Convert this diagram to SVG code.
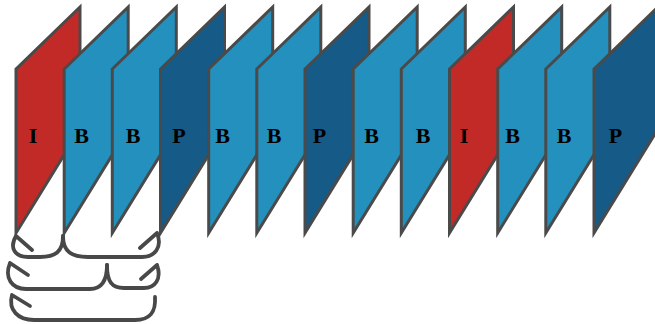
<svg xmlns="http://www.w3.org/2000/svg" width="655" height="324" viewBox="0 0 655 324">
<style>
.f{stroke:#4a4a4a;stroke-width:3;stroke-linejoin:miter}
.I{fill:#c22a28}
.B{fill:#2490bd}
.P{fill:#165a87}
.t{font-family:"Liberation Serif","Times New Roman",serif;font-weight:bold;font-size:22px;fill:#000;text-anchor:middle}
.c{fill:none;stroke:#484848;stroke-width:3.8;stroke-linecap:round;stroke-linejoin:round}
</style>
<defs>
<path id="fr" d="M0,69 L64,7 L64,129 L0,233 Z"/>
</defs>
<g id="f1"><use href="#fr" x="16" class="f I"/><text class="t" x="33" y="143">I</text></g>
<g id="f2"><use href="#fr" x="64.2" class="f B"/><text class="t" x="81.5" y="143">B</text></g>
<g id="f3"><use href="#fr" x="112.3" class="f B"/><text class="t" x="133" y="143">B</text></g>
<g id="f4"><use href="#fr" x="160.5" class="f P"/><text class="t" x="179" y="143">P</text></g>
<g id="f5"><use href="#fr" x="208.7" class="f B"/><text class="t" x="222.5" y="143">B</text></g>
<g id="f6"><use href="#fr" x="256.8" class="f B"/><text class="t" x="274" y="143">B</text></g>
<g id="f7"><use href="#fr" x="305" class="f P"/><text class="t" x="319.5" y="143">P</text></g>
<g id="f8"><use href="#fr" x="353.2" class="f B"/><text class="t" x="371.5" y="143">B</text></g>
<g id="f9"><use href="#fr" x="401.3" class="f B"/><text class="t" x="423" y="143">B</text></g>
<g id="f10"><use href="#fr" x="449.5" class="f I"/><text class="t" x="464" y="143">I</text></g>
<g id="f11"><use href="#fr" x="497.7" class="f B"/><text class="t" x="512.5" y="143">B</text></g>
<g id="f12"><use href="#fr" x="545.8" class="f B"/><text class="t" x="564" y="143">B</text></g>
<g id="f13"><use href="#fr" x="594" class="f P"/><text class="t" x="615.5" y="143">P</text></g>
<g id="connectors">
<path class="c" d="M63,236 C63,252 55,257 40,257 L28,257 C15,257 9,248 16,236 M32,250 L16,236"/>
<path class="c" d="M63,236 C63,252 72,257 88,257 L142,257 C154,257 163,248 157,233 M140,248 L157,233"/>
<path class="c" d="M107,265 C107,282 101,289 90,289 L26,289 C12,289 4,278 10,263 M28,275 L10,263"/>
<path class="c" d="M107,265 C107,282 112,288 124,288 L144,288 C155,288 162,279 157,265 M141,279 L157,265"/>
<path class="c" d="M155,297 C156,312 150,320 135,320 L34,320 C18,320 8,310 12,295 M30,306 L12,295"/>
</g>
</svg>
